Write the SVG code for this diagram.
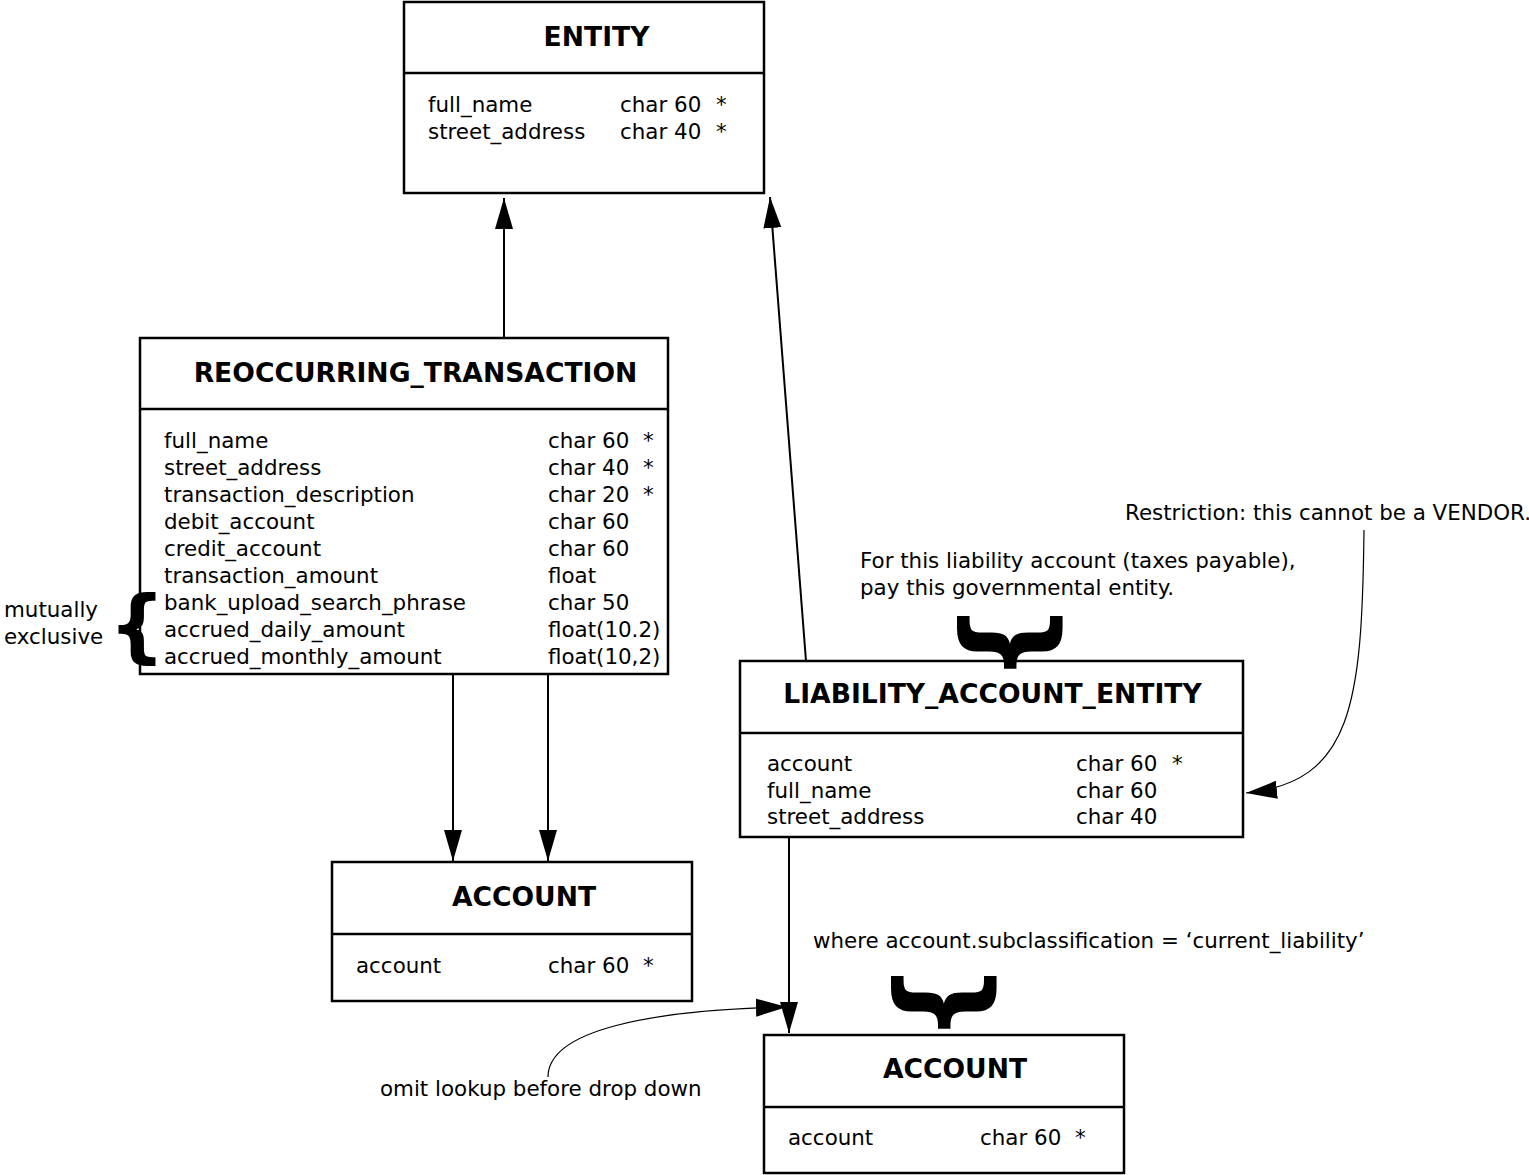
<svg xmlns="http://www.w3.org/2000/svg" width="1529" height="1175" viewBox="0 0 1529 1175">
<style>
  .box { fill: #fff; stroke: #000; stroke-width: 2.5; }
  .div { stroke: #000; stroke-width: 2.5; }
  .title { font-family: "DejaVu Sans", sans-serif; font-weight: bold; font-size: 26.6px; text-anchor: middle; fill: #000; }
  .t { font-family: "DejaVu Sans", sans-serif; font-size: 21.4px; fill: #000; }
  .note { font-family: "DejaVu Sans", sans-serif; font-size: 21.4px; fill: #000; }
  .brace { font-family: "DejaVu Sans", sans-serif; font-weight: bold; text-anchor: middle; fill: #000; }
  .conn { fill: none; stroke: #000; stroke-width: 2; }
  .curve { fill: none; stroke: #000; stroke-width: 1.2; }
</style>
<defs>
  <marker id="arrow" markerUnits="userSpaceOnUse" markerWidth="32" markerHeight="20" viewBox="0 0 32 20" refX="31" refY="10" orient="auto">
    <path d="M0,1 L31,10 L0,19 z" fill="#000"/>
  </marker>
</defs>
<rect width="1529" height="1175" fill="#fff"/>

<g id="connectors">
  <path class="conn" d="M504,338 L504,198" marker-end="url(#arrow)"/>
  <path class="conn" d="M806,661 L770,197" marker-end="url(#arrow)"/>
  <path class="conn" d="M453,674 L453,861" marker-end="url(#arrow)"/>
  <path class="conn" d="M548,674 L548,861" marker-end="url(#arrow)"/>
  <path class="conn" d="M789,837 L789,1033" marker-end="url(#arrow)"/>
  <path class="curve" d="M548,1077 C548,1030 650,1010 787,1007" marker-end="url(#arrow)"/>
  <path class="curve" d="M1364,530 C1362,705 1352,782 1246,793" marker-end="url(#arrow)"/>
</g>

<g id="entity">
  <rect class="box" x="404" y="2" width="360" height="191"/>
  <line class="div" x1="404" y1="73" x2="764" y2="73"/>
  <text class="title" x="596.5" y="46">ENTITY</text>
  <text class="t" x="428" y="112">full_name</text>
  <text class="t" x="620" y="112">char 60</text>
  <text class="t" x="716" y="112">*</text>
  <text class="t" x="428" y="139">street_address</text>
  <text class="t" x="620" y="139">char 40</text>
  <text class="t" x="716" y="139">*</text>
</g>

<g id="reoccurring_transaction">
  <rect class="box" x="140" y="338" width="528" height="336"/>
  <line class="div" x1="140" y1="409" x2="668" y2="409"/>
  <text class="title" x="415.5" y="382">REOCCURRING_TRANSACTION</text>
  <text class="t" x="164" y="448">full_name</text>
  <text class="t" x="548" y="448">char 60</text>
  <text class="t" x="643" y="448">*</text>
  <text class="t" x="164" y="475">street_address</text>
  <text class="t" x="548" y="475">char 40</text>
  <text class="t" x="643" y="475">*</text>
  <text class="t" x="164" y="502">transaction_description</text>
  <text class="t" x="548" y="502">char 20</text>
  <text class="t" x="643" y="502">*</text>
  <text class="t" x="164" y="529">debit_account</text>
  <text class="t" x="548" y="529">char 60</text>
  <text class="t" x="164" y="556">credit_account</text>
  <text class="t" x="548" y="556">char 60</text>
  <text class="t" x="164" y="583">transaction_amount</text>
  <text class="t" x="548" y="583">float</text>
  <text class="t" x="164" y="610">bank_upload_search_phrase</text>
  <text class="t" x="548" y="610">char 50</text>
  <text class="t" x="164" y="637">accrued_daily_amount</text>
  <text class="t" x="548" y="637">float(10.2)</text>
  <text class="t" x="164" y="664">accrued_monthly_amount</text>
  <text class="t" x="548" y="664">float(10,2)</text>
</g>

<g id="account_left">
  <rect class="box" x="332" y="862" width="360" height="139"/>
  <line class="div" x1="332" y1="934" x2="692" y2="934"/>
  <text class="title" x="524" y="906">ACCOUNT</text>
  <text class="t" x="356" y="973">account</text>
  <text class="t" x="548" y="973">char 60</text>
  <text class="t" x="643" y="973">*</text>
</g>

<g id="liability_account_entity">
  <rect class="box" x="740" y="661" width="503" height="176"/>
  <line class="div" x1="740" y1="733" x2="1243" y2="733"/>
  <text class="title" x="992.5" y="703">LIABILITY_ACCOUNT_ENTITY</text>
  <text class="t" x="767" y="771">account</text>
  <text class="t" x="1076" y="771">char 60</text>
  <text class="t" x="1172" y="771">*</text>
  <text class="t" x="767" y="798">full_name</text>
  <text class="t" x="1076" y="798">char 60</text>
  <text class="t" x="767" y="824">street_address</text>
  <text class="t" x="1076" y="824">char 40</text>
</g>

<g id="account_bottom">
  <rect class="box" x="764" y="1035" width="360" height="138"/>
  <line class="div" x1="764" y1="1107" x2="1124" y2="1107"/>
  <text class="title" x="955" y="1078">ACCOUNT</text>
  <text class="t" x="788" y="1145">account</text>
  <text class="t" x="980" y="1145">char 60</text>
  <text class="t" x="1075" y="1145">*</text>
</g>

<g id="notes">
  <text class="note" x="4" y="617">mutually</text>
  <text class="note" x="4" y="644">exclusive</text>
  <text class="brace" font-size="80" transform="translate(137,628)" x="0" y="25">{</text>
  <text class="note" x="1125" y="520">Restriction: this cannot be a VENDOR.</text>
  <text class="note" x="860" y="568">For this liability account (taxes payable),</text>
  <text class="note" x="860" y="595">pay this governmental entity.</text>
  <text class="brace" font-size="114" transform="translate(1007.5,642.5) rotate(-90)" x="0" y="36">{</text>
  <text class="note" x="813" y="948">where account.subclassification = ‘current_liability’</text>
  <text class="brace" font-size="114" transform="translate(941.5,1002.5) rotate(-90)" x="0" y="36">{</text>
  <text class="note" x="380" y="1096">omit lookup before drop down</text>
</g>
</svg>
